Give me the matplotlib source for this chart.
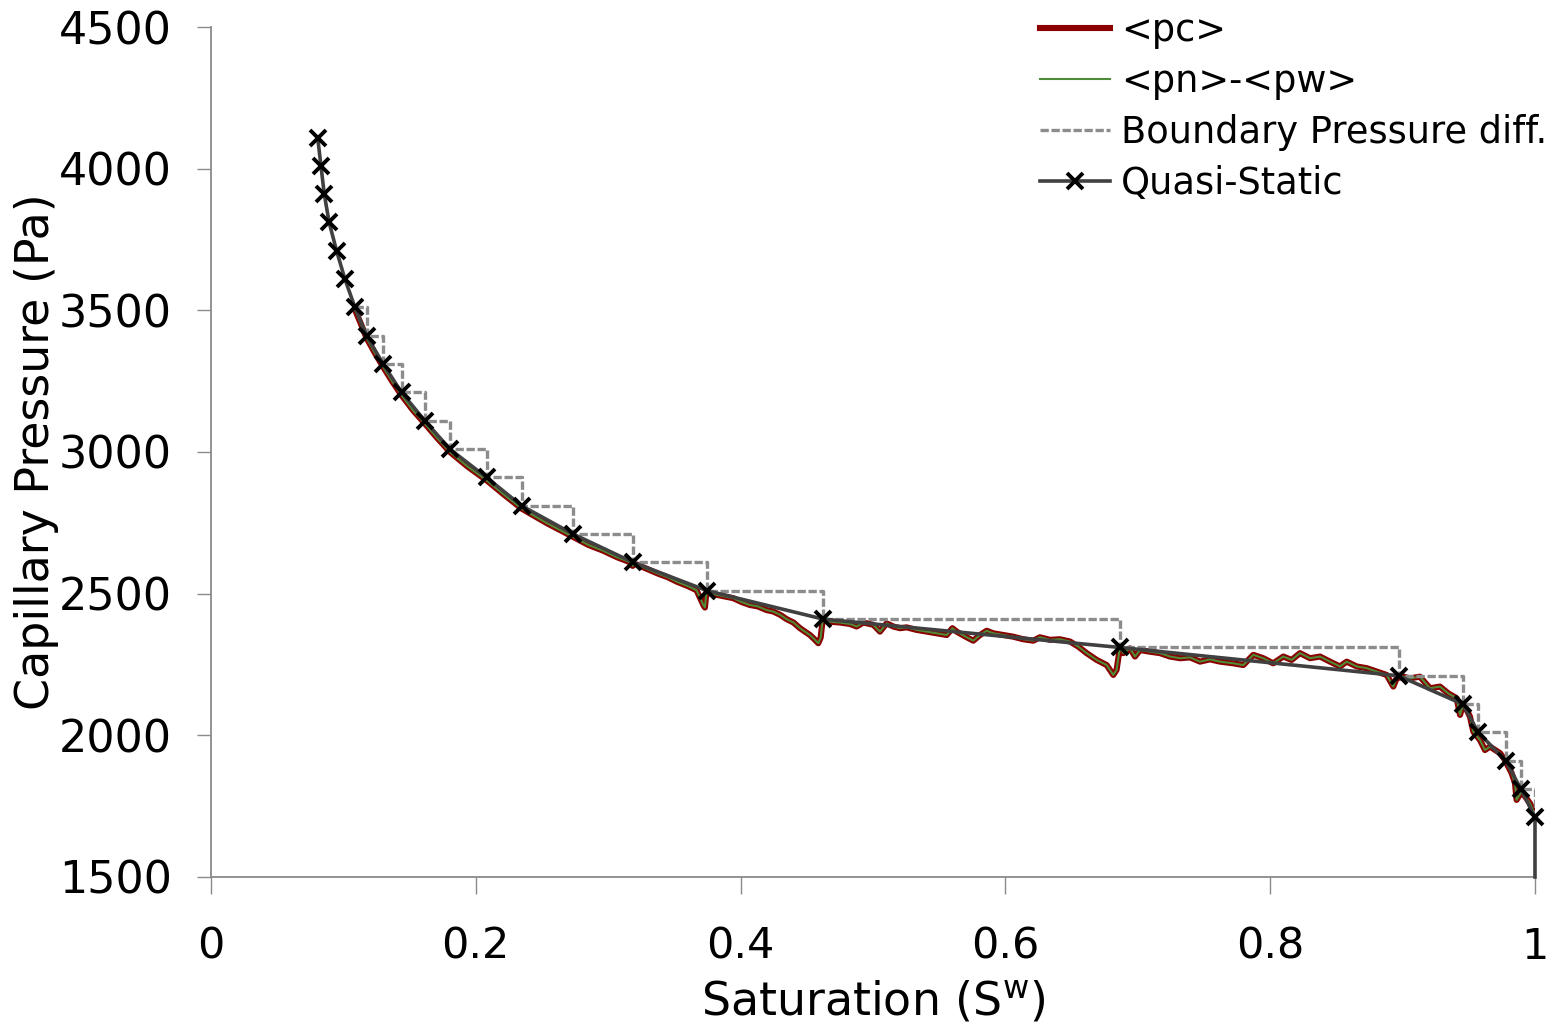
import matplotlib
matplotlib.use("Agg")
import matplotlib.pyplot as plt

plt.rcParams['font.family'] = ['DejaVu Sans']

# Quasi-static capillary pressure curve
qs_s = [0.0806, 0.0831, 0.0856, 0.0893, 0.0949, 0.1012, 0.1088, 0.1176, 0.1301,
        0.1440, 0.1616, 0.1805, 0.2082, 0.2347, 0.2737, 0.3190, 0.3749, 0.4625,
        0.6866, 0.8970, 0.9454, 0.9572, 0.9779, 0.9894, 1.0000]
qs_p = [4110, 4010, 3910, 3810, 3710, 3610, 3510, 3410, 3310,
        3210, 3110, 3010, 2910, 2810, 2710, 2610, 2510, 2410,
        2310, 2210, 2110, 2010, 1910, 1810, 1710]
# final drop of the quasi-static curve at full saturation
qs_tail_s = [1.0]
qs_tail_p = [1500]

# Boundary pressure difference: held at each level until the next step
bnd_s = qs_s[6:]
bnd_p = qs_p[6:]

# Average capillary pressure <pc> from the dynamic simulation
pc_s = [0.1088, 0.1130, 0.1176, 0.1235, 0.1301, 0.1368, 0.1440, 0.1525, 0.1616,
        0.1708, 0.1805, 0.1940, 0.2082, 0.2212, 0.2347, 0.2540, 0.2737, 0.2850,
        0.2960, 0.3070, 0.3160, 0.3185, 0.3200, 0.3290, 0.3380, 0.3450, 0.3520,
        0.3600, 0.3668, 0.3690, 0.3719, 0.3731, 0.3744,
        0.3769, 0.3860, 0.3945, 0.4010, 0.4070, 0.4130, 0.4197, 0.4247, 0.4300,
        0.4348, 0.4400, 0.4449, 0.4500, 0.4524, 0.4560, 0.4587, 0.4605, 0.4620,
        0.4675, 0.4751, 0.4826, 0.4877, 0.4927, 0.5003, 0.5053, 0.5103, 0.5154,
        0.5204, 0.5254, 0.5330, 0.5406, 0.5481, 0.5557, 0.5600, 0.5632, 0.5708,
        0.5758, 0.5808, 0.5859, 0.5909, 0.5984, 0.6060, 0.6135, 0.6211, 0.6261,
        0.6337, 0.6412, 0.6488, 0.6551, 0.6614, 0.6690, 0.6765, 0.6815, 0.6840,
        0.6866, 0.6890, 0.6941, 0.6979, 0.7017, 0.7092, 0.7168, 0.7243, 0.7319,
        0.7394, 0.7470, 0.7545, 0.7621, 0.7722, 0.7797, 0.7873, 0.7948, 0.8023,
        0.8099, 0.8162, 0.8225, 0.8301, 0.8376, 0.8452, 0.8527, 0.8578, 0.8653,
        0.8729, 0.8804, 0.8880, 0.8930, 0.8955, 0.9005, 0.9056, 0.9131, 0.9207,
        0.9282, 0.9345, 0.9408, 0.9434, 0.9459, 0.9509, 0.9534, 0.9585, 0.9622,
        0.9660, 0.9736, 0.9773, 0.9824, 0.9849, 0.9861, 0.9899, 0.9962, 1.0000]
pc_p = [3502, 3455, 3402, 3352, 3300, 3250, 3200, 3148, 3100,
        3050, 3000, 2948, 2900, 2850, 2800, 2748, 2700, 2672,
        2652, 2628, 2612, 2598, 2606, 2588, 2570, 2558, 2542,
        2527, 2512, 2489, 2460, 2451, 2513,
        2501, 2492, 2484, 2470, 2460, 2455, 2442, 2437, 2425,
        2410, 2398, 2378, 2362, 2354, 2338, 2325, 2345, 2407,
        2401, 2398, 2393, 2384, 2398, 2390, 2366, 2395, 2384,
        2378, 2381, 2372, 2366, 2360, 2354, 2378, 2366, 2346,
        2334, 2354, 2369, 2360, 2354, 2348, 2339, 2334, 2346,
        2337, 2339, 2331, 2313, 2290, 2266, 2248, 2213, 2231,
        2313, 2290, 2307, 2278, 2301, 2295, 2290, 2278, 2272,
        2275, 2260, 2268, 2260, 2254, 2248, 2284, 2272, 2254,
        2278, 2266, 2290, 2272, 2278, 2260, 2243, 2260, 2243,
        2237, 2225, 2213, 2172, 2201, 2207, 2201, 2207, 2166,
        2172, 2148, 2131, 2072, 2113, 2066, 2013, 1983, 1948,
        1960, 1937, 1913, 1866, 1831, 1772, 1801, 1760, 1719]

# Phase-averaged pressure difference <pn>-<pw> (coincides with <pc>)
pnpw_s = pc_s
pnpw_p = pc_p

x_ticks = [0, 0.2, 0.4, 0.6, 0.8, 1.0]
x_tick_labels = ['0', '0.2', '0.4', '0.6', '0.8', '1']
y_ticks = [1500, 2000, 2500, 3000, 3500, 4000, 4500]
y_tick_labels = ['1500', '2000', '2500', '3000', '3500', '4000', '4500']

fig = plt.figure(figsize=(15.59, 10.27), dpi=100)
ax = fig.add_axes([0.1353, 0.1461, 0.8493, 0.8276])

ax.plot(pc_s, pc_p, color='#8B0000', lw=4.4, solid_joinstyle='round',
        label='<pc>', zorder=2)
ax.plot(pnpw_s, pnpw_p, color='#4f8a36', lw=1.5, label='<pn>-<pw>', zorder=3)
ax.step(bnd_s, bnd_p, where='post', color='#8c8c8c', lw=2.4,
        linestyle=(0, (2.5, 0.8)), label='Boundary Pressure diff.', zorder=4)
ax.plot(qs_s + qs_tail_s, qs_p + qs_tail_p, color='#404040', lw=2.6,
        marker='x', markersize=11, markeredgewidth=2.8, markeredgecolor='black',
        markevery=list(range(len(qs_s))), label='Quasi-Static', zorder=5,
        clip_on=False)

ax.set_xlim(0, 1)
ax.set_ylim(1500, 4500)
ax.set_xticks(x_ticks)
ax.set_xticklabels(x_tick_labels)
ax.set_yticks(y_ticks)
ax.set_yticklabels(y_tick_labels)

for side in ('top', 'right'):
    ax.spines[side].set_visible(False)
for side in ('left', 'bottom'):
    ax.spines[side].set_color('#8a8a8a')
    ax.spines[side].set_linewidth(1.3)

ax.tick_params(axis='x', direction='out', length=12, width=1, color='#8a8a8a',
               labelsize=31, pad=23)
ax.tick_params(axis='y', direction='out', length=10, width=1, color='#8a8a8a',
               labelsize=32, pad=18)

ax.set_xlabel('Saturation (S$^{\\mathregular{w}}$)', fontsize=33, labelpad=8)
ax.set_ylabel('Capillary Pressure (Pa)', fontsize=33, labelpad=0)

leg = ax.legend(loc='upper left', bbox_to_anchor=(0.667, 0.988),
                bbox_transform=fig.transFigure, frameon=False, fontsize=26.5,
                handlelength=1.9, handletextpad=0.3, labelspacing=0.38,
                borderpad=0, borderaxespad=0)

fig.savefig('out.png', dpi=100)
